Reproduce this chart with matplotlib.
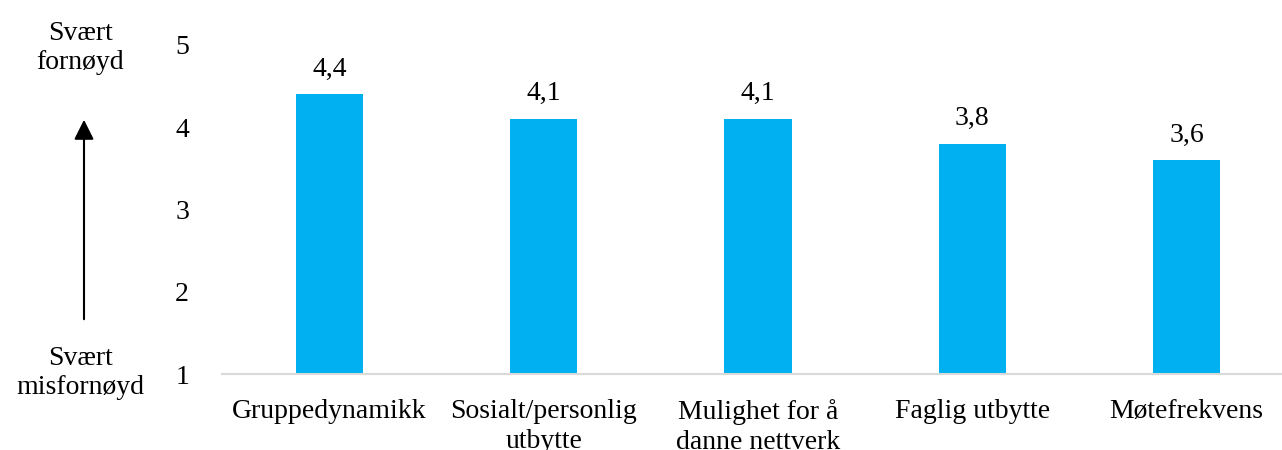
import matplotlib
matplotlib.use("Agg")
import matplotlib.pyplot as plt

categories = ["Gruppedynamikk", "Sosialt/personlig\nutbytte", "Mulighet for å\ndanne nettverk",
              "Faglig utbytte", "Møtefrekvens"]
values = [4.4, 4.1, 4.1, 3.8, 3.6]
value_labels = ["4,4", "4,1", "4,1", "3,8", "3,6"]
yticks = [1, 2, 3, 4, 5]

plt.rcParams['font.family'] = ['Liberation Serif', 'DejaVu Serif']

W, H = 1282, 450
fig = plt.figure(figsize=(W / 100, H / 100), dpi=100)
left, right_px = 222.4, 222.4 + 5 * 214.25
bottom_px, top_px = 374, 374 - 4 * 82.3
ax = fig.add_axes([left / W, 1 - bottom_px / H, (right_px - left) / W, (bottom_px - top_px) / H])

x = list(range(len(categories)))
ax.bar(x, [v - 1 for v in values], bottom=1, width=0.313, color="#00B0F0", zorder=2)
ax.set_xlim(-0.5, len(categories) - 0.5)
ax.set_ylim(1, 5)
ax.set_yticks(yticks)
ax.set_yticklabels([str(t) for t in yticks], fontsize=20)
ax.set_xticks(x)
ax.set_xticklabels(categories, fontsize=20, linespacing=1.25)
ax.tick_params(axis='both', length=0)
ax.tick_params(axis='y', pad=24)
ax.tick_params(axis='x', pad=18)
for s in ["top", "right", "left"]:
    ax.spines[s].set_visible(False)
ax.spines["bottom"].set_color("#d9d9d9")
ax.spines["bottom"].set_linewidth(1.5)

for xi, v, lab in zip(x, values, value_labels):
    ax.annotate(lab, (xi, v), xytext=(0, 9), textcoords="offset points",
                ha="center", va="bottom", fontsize=20)

# side annotations
fig.text(80 / W, 1 - 48 / H, "Svært\nfornøyd", ha="center", va="center", fontsize=20, linespacing=1.25)
fig.text(80 / W, 1 - 373 / H, "Svært\nmisfornøyd", ha="center", va="center", fontsize=20, linespacing=1.25)
fig.add_artist(matplotlib.patches.FancyArrowPatch(
    (84 / W, 1 - 322 / H), (84 / W, 1 - 117 / H), transform=fig.transFigure,
    arrowstyle="-|>,head_length=8,head_width=4", mutation_scale=1.5, color="black", lw=1.5))

fig.savefig("out.png", dpi=100, facecolor="white")
